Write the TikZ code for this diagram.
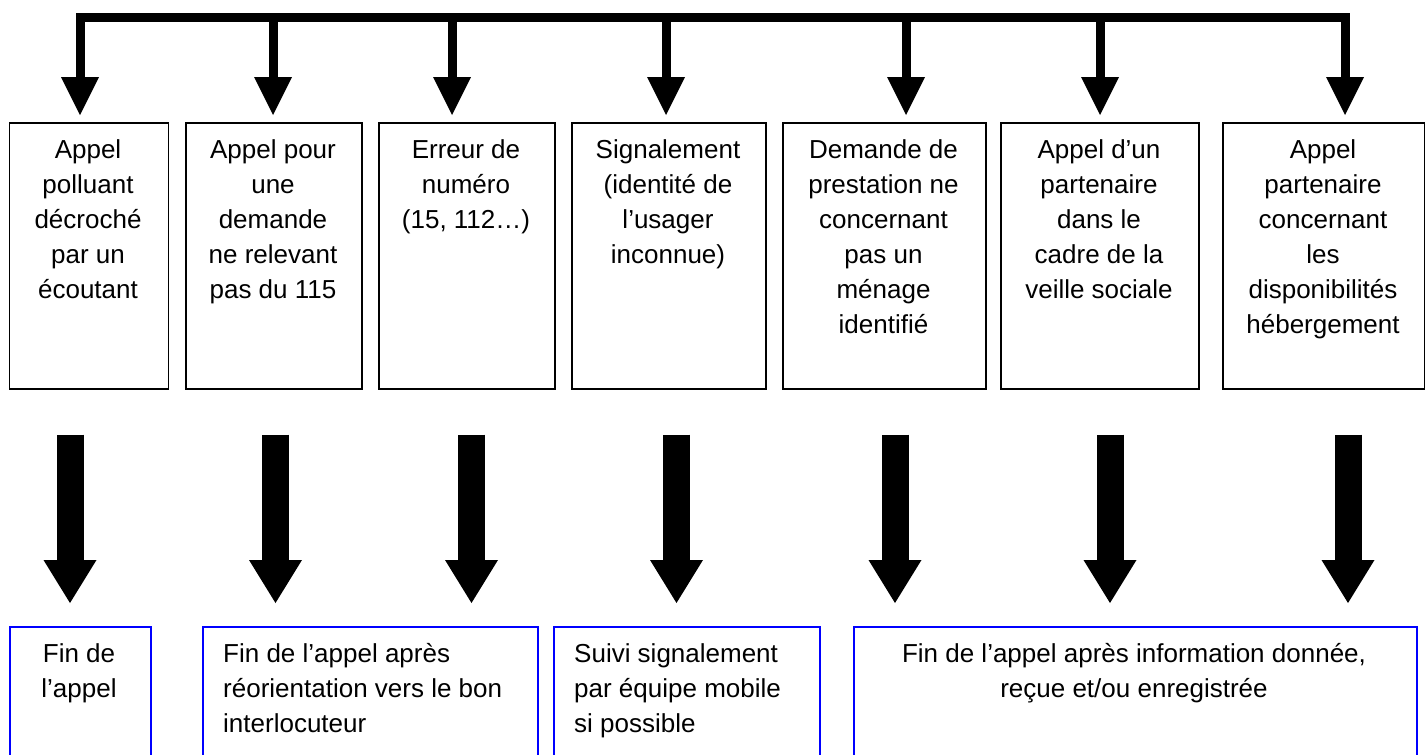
\documentclass[tikz,border=0pt]{standalone}
\usepackage{fontspec}
\setmainfont{Liberation Sans}
\usetikzlibrary{arrows.meta}
\begin{document}
\begin{tikzpicture}[x=1pt,y=-1pt,
  topbox/.style={draw=black,line width=1.5pt,anchor=north west,inner sep=0pt,minimum height=266pt},
  endbox/.style={draw=blue,line width=2pt,anchor=north west,inner sep=0pt,minimum height=150pt},
  txt/.style={font=\fontsize{26}{35}\selectfont,inner sep=0pt},
  feed/.style={line width=9pt,-{Triangle[width=38pt,length=38pt,line width'=0pt]},shorten >=7pt},
  bigarr/.style={line width=27pt,-{Triangle[width=53pt,length=43pt,line width'=0pt]},shorten <=45pt,shorten >=23pt}]
\clip (0,0) rectangle (1425,755);
% top boxes
\node[topbox,minimum width=159pt] (b1) at (8.5,122) {};
\node[topbox,minimum width=176pt] (b2) at (185,122) {};
\node[topbox,minimum width=176pt] (b3) at (378,122) {};
\node[topbox,minimum width=194pt] (b4) at (571,122) {};
\node[topbox,minimum width=203pt] (b5) at (782,122) {};
\node[topbox,minimum width=198pt] (b6) at (1000,122) {};
\node[topbox,minimum width=202pt] (b7) at (1222,122) {};
% texts in top boxes
\node[txt,anchor=north,align=center] (t1) at (88,139.4) {Appel\\polluant\\décroché\\par un\\écoutant};
\node[txt,anchor=north,align=center] (t2) at (273,139.4) {Appel pour\\une\\demande\\ne relevant\\pas du 115};
\node[txt,anchor=north,align=center] (t3) at (466,139.4) {Erreur de\\numéro\\(15, 112…)};
\node[txt,anchor=north,align=center] (t4) at (668,139.4) {Signalement\\(identité de\\l’usager\\inconnue)};
\node[txt,anchor=north,align=center] (t5) at (883.5,139.4) {Demande de\\prestation ne\\concernant\\pas un\\ménage\\identifié};
\node[txt,anchor=north,align=center] (t6) at (1099,139.4) {Appel d’un\\partenaire\\dans le\\cadre de la\\veille sociale};
\node[txt,anchor=north,align=center] (t7) at (1323,139.4) {Appel\\partenaire\\concernant\\les\\disponibilités\\hébergement};
% bottom boxes
\node[endbox,minimum width=141.5pt] (f1) at (8.5,626) {};
\node[endbox,minimum width=335pt] (f2) at (202,626) {};
\node[endbox,minimum width=266pt] (f3) at (553,626) {};
\node[endbox,minimum width=563pt] (f4) at (853,626) {};
\node[txt,anchor=north,align=center] (u1) at (79,643) {Fin de\\l’appel};
\node[txt,anchor=north west,align=left] (u2) at (223,643) {Fin de l’appel après\\réorientation vers le bon\\interlocuteur};
\node[txt,anchor=north west,align=left] (u3) at (574,643) {Suivi signalement\\par équipe mobile\\si possible};
\node[txt,anchor=north,align=center] (u4) at (1134,643) {Fin de l’appel après information donnée,\\reçue et/ou enregistrée};
% top distribution bar
\coordinate (L) at (80,17.5);
\coordinate (R) at (1345,17.5);
\coordinate (j2) at (273,17.5);
\coordinate (j3) at (452,17.5);
\coordinate (j4) at (666,17.5);
\coordinate (j5) at (906,17.5);
\coordinate (j6) at (1100,17.5);
\draw[feed,{Triangle[width=38pt,length=38pt,line width'=0pt]}-{Triangle[width=38pt,length=38pt,line width'=0pt]},shorten <=7pt]
  (b1.north -| L) -- (L) -- (R) -- (b7.north -| R);
\draw[feed] (j2) -- (b2.north -| j2);
\draw[feed] (j3) -- (b3.north -| j3);
\draw[feed] (j4) -- (b4.north -| j4);
\draw[feed] (j5) -- (b5.north -| j5);
\draw[feed] (j6) -- (b6.north -| j6);
% big arrows
\coordinate (x1) at (70,0);
\coordinate (x2) at (275.5,0);
\coordinate (x3) at (471.5,0);
\coordinate (x4) at (676.5,0);
\coordinate (x5) at (895,0);
\coordinate (x6) at (1110,0);
\coordinate (x7) at (1348,0);
\draw[bigarr] (b1.south -| x1) -- (f1.north -| x1);
\draw[bigarr] (b2.south -| x2) -- (f2.north -| x2);
\draw[bigarr] (b3.south -| x3) -- (f2.north -| x3);
\draw[bigarr] (b4.south -| x4) -- (f3.north -| x4);
\draw[bigarr] (b5.south -| x5) -- (f4.north -| x5);
\draw[bigarr] (b6.south -| x6) -- (f4.north -| x6);
\draw[bigarr] (b7.south -| x7) -- (f4.north -| x7);
\end{tikzpicture}
\end{document}
